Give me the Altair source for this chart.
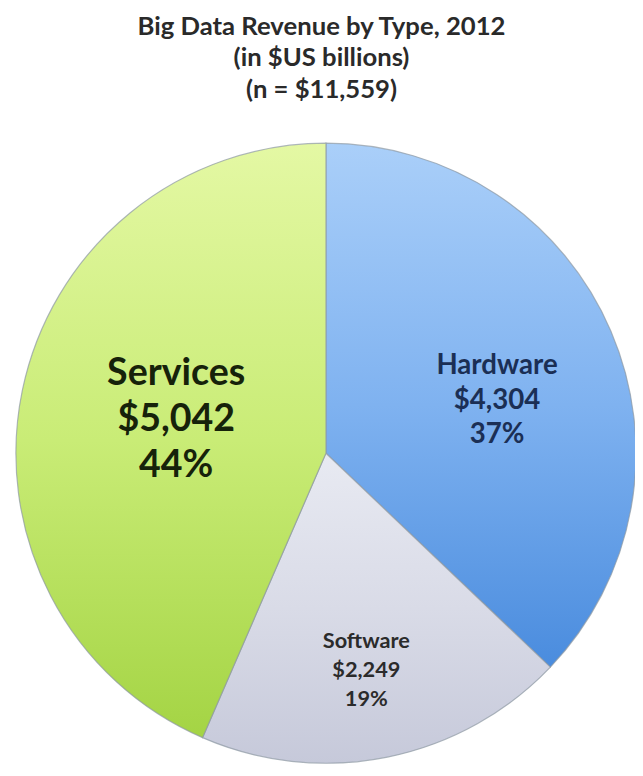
import math
import altair as alt
import pandas as pd

# ---- data ----
TYPES = ["Hardware", "Software", "Services"]
VALUES = [4304, 2249, 5042]
AMOUNTS = ["$4,304", "$2,249", "$5,042"]
PCTS = ["37%", "19%", "44%"]
TITLE_LINES = ["Big Data Revenue by Type, 2012", "(in $US billions)", "(n = $11,559)"]

# ---- styling ----
GRADIENTS = {
    "Hardware": ["#aacff9", "#7fb2f0", "#4a8cde"],
    "Software": ["#e8eaf2", "#d9dbe7", "#c6c9da"],
    "Services": ["#e4f8a4", "#c9ec76", "#a4d444"],
}
LABEL_STYLE = {
    # font size, line height, colour, radius, dx, dy
    "Hardware": (28, 35, "#1b2f55", 170, 17, -21),
    "Software": (22, 29, "#2b2b2b", 221, -3, -26),
    "Services": (38, 47, "#16220a", 160, 5, -48),
}
FONT = "Lato"
PAD_TOP = 120
W, H = 635, 768 - PAD_TOP
CX, CY = 322, 446 - PAD_TOP
R = 314

df = pd.DataFrame({
    "order": list(range(len(TYPES))),
    "type": TYPES,
    "value": VALUES,
    "amount": AMOUNTS,
    "pct": PCTS,
})
total = sum(VALUES)
theta_scale = alt.Scale(domain=[0, total], range=[0, 2 * math.pi])

base = alt.Chart(df).transform_window(
    end="sum(value)", sort=[alt.SortField("order")], frame=[None, 0]
).transform_calculate(
    start="datum.end - datum.value",
    mid="datum.end - datum.value / 2",
    lines="[datum.type, datum.amount, datum.pct]",
)

layers = []
for t in TYPES:
    stops = GRADIENTS[t]
    grad = alt.Gradient(
        gradient="linear",
        x1=0, y1=0, x2=0, y2=1,
        stops=[
            alt.GradientStop(offset=0, color=stops[0]),
            alt.GradientStop(offset=0.5, color=stops[1]),
            alt.GradientStop(offset=1, color=stops[2]),
        ],
    )
    layers.append(
        base.transform_filter(alt.datum.type == t).mark_arc(
            radius=R, fill=grad, stroke="#8d99a3", strokeWidth=1.2, strokeOpacity=0.7
        ).encode(
            theta=alt.Theta("start:Q", scale=theta_scale, stack=None),
            theta2="end:Q",
            x=alt.value(CX),
            y=alt.value(CY),
        )
    )

for t in TYPES:
    fs, lh, col, rad, dx, dy = LABEL_STYLE[t]
    layers.append(
        base.transform_filter(alt.datum.type == t).mark_text(
            font=FONT, fontWeight="bold", fontSize=fs, lineHeight=lh,
            color=col, align="center", baseline="middle", dx=dx, dy=dy,
        ).encode(
            theta=alt.Theta("mid:Q", scale=theta_scale, stack=None),
            radius=alt.value(rad),
            text=alt.Text("lines:N"),
            x=alt.value(CX),
            y=alt.value(CY),
        )
    )

chart = alt.layer(*layers).properties(
    width=W,
    height=H,
    background="#ffffff",
    title=alt.TitleParams(
        text=TITLE_LINES,
        font=FONT,
        fontSize=26,
        fontWeight="bold",
        color="#2a2a2a",
        lineHeight=32,
        anchor="middle",
        offset=29,
    ),
    autosize=alt.AutoSizeParams(type="none"),
    padding={"left": 0, "top": PAD_TOP, "right": 0, "bottom": 0},
).configure_view(stroke=None)

chart.save("out.html", embed_options={"renderer": "svg", "actions": False})
